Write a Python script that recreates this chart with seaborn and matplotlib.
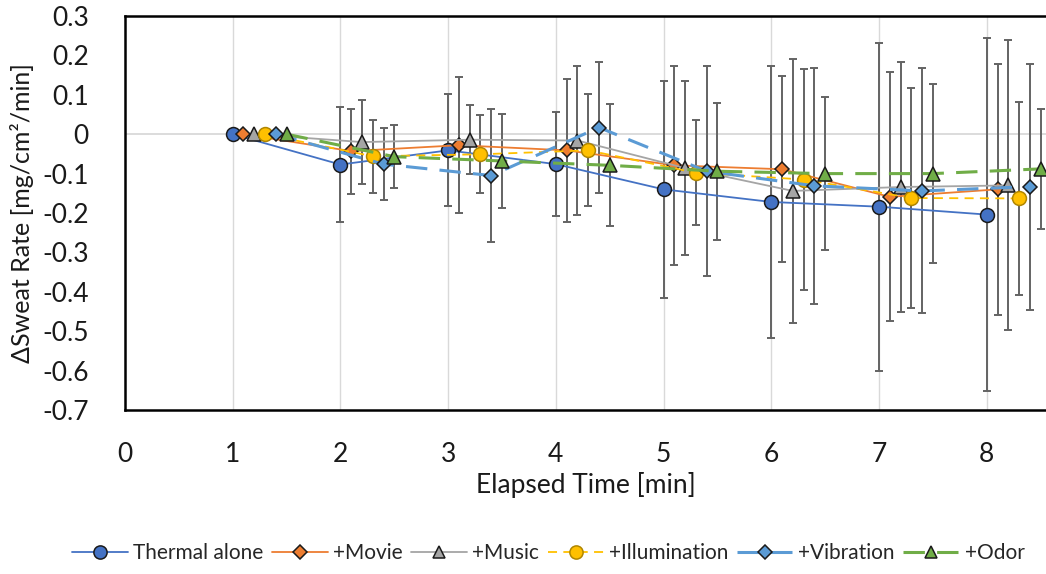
import numpy as np
import pandas as pd
import matplotlib
matplotlib.use("Agg")
import matplotlib.pyplot as plt
import seaborn as sns

# Elapsed time points (min)
minutes = [1, 2, 3, 4, 5, 6, 7, 8]

# Condition names
conditions = ["Thermal alone", "+Movie", "+Music", "+Illumination", "+Vibration", "+Odor"]

# Mean change in sweat rate [mg/cm²/min]
thermal_mean = [0, -0.077, -0.041, -0.076, -0.140, -0.172, -0.184, -0.204]
movie_mean = [0, -0.043, -0.028, -0.041, -0.079, -0.089, -0.159, -0.140]
music_mean = [0, -0.020, -0.014, -0.016, -0.086, -0.144, -0.134, -0.130]
illum_mean = [0, -0.056, -0.051, -0.041, -0.098, -0.115, -0.162, -0.163]
vib_mean = [0, -0.076, -0.105, 0.017, -0.094, -0.131, -0.144, -0.133]
odor_mean = [0, -0.057, -0.068, -0.079, -0.094, -0.100, -0.100, -0.088]

# Standard deviations
thermal_sd = [0, 0.147, 0.142, 0.132, 0.276, 0.345, 0.416, 0.448]
movie_sd = [0, 0.108, 0.172, 0.182, 0.252, 0.236, 0.316, 0.318]
music_sd = [0, 0.107, 0.087, 0.190, 0.220, 0.334, 0.318, 0.368]
illum_sd = [0, 0.092, 0.099, 0.142, 0.133, 0.280, 0.280, 0.245]
vib_sd = [0, 0.092, 0.168, 0.167, 0.266, 0.300, 0.311, 0.312]
odor_sd = [0, 0.080, 0.120, 0.155, 0.174, 0.194, 0.228, 0.152]

means = [thermal_mean, movie_mean, music_mean, illum_mean, vib_mean, odor_mean]
sds = [thermal_sd, movie_sd, music_sd, illum_sd, vib_sd, odor_sd]

# Styling per condition
colors = ["#4472C4", "#ED7D31", "#A5A5A5", "#FFC000", "#5B9BD5", "#70AD47"]
markers = ["o", "D", "^", "o", "D", "^"]
msizes = [10, 7, 9.5, 10, 7, 9.5]
edgecolors = ["#1a1a1a", "#1a1a1a", "#1a1a1a", "#B08600", "#1a1a1a", "#1a1a1a"]
linewidths = [1.3, 1.3, 1.3, 1.3, 2.2, 2.2]
dashes = [None, None, None, (5, 3.5), (7, 4), (7, 4)]

rows = []
for i, name in enumerate(conditions):
    for t, m, s in zip(minutes, means[i], sds[i]):
        rows.append({"condition": name, "time": t + 0.1 * i, "delta": m, "sd": s})
df = pd.DataFrame(rows)

sns.set_theme(style="white")
plt.rcParams["font.family"] = ["Lato", "DejaVu Sans"]

fig = plt.figure(figsize=(10.46, 5.74), dpi=100)
ax = fig.add_axes([125 / 1046, 1 - 410 / 574, 921 / 1046, 394 / 574])

# Light reference lines
for t in minutes:
    ax.axvline(t, color="#D9D9D9", lw=1.0, zorder=0)
ax.axhline(0, color="#D9D9D9", lw=1.3, zorder=0)

handles = []
for i, name in enumerate(conditions):
    sub = df[df["condition"] == name]
    has_err = sub["sd"] > 0
    ax.errorbar(sub["time"][has_err], sub["delta"][has_err], yerr=sub["sd"][has_err],
                fmt="none", ecolor="#636363", elinewidth=1.4, capsize=3.2,
                capthick=1.4, zorder=2)
    sns.lineplot(data=sub, x="time", y="delta", ax=ax, color=colors[i],
                 lw=linewidths[i], zorder=3 + i, legend=False, sort=False)
    line = ax.lines[-1]
    if dashes[i] is not None:
        line.set_dashes(dashes[i])
    line.set_marker(markers[i])
    line.set_markersize(msizes[i])
    line.set_markerfacecolor(colors[i])
    line.set_markeredgecolor(edgecolors[i])
    line.set_markeredgewidth(1.1)
    line.set_label(name)
    handles.append(line)

ax.set_xlim(0, 8.55)
ax.set_ylim(-0.7, 0.3)
ax.set_xticks(range(0, 9))
yt = np.round(np.arange(-0.7, 0.31, 0.1), 1)
ax.set_yticks(yt)
ax.set_yticklabels([("0" if abs(v) < 1e-9 else f"{v:.1f}") for v in yt])
ax.tick_params(axis="both", length=0, labelsize=19, colors="#1a1a1a")
ax.tick_params(axis="y", pad=26)
ax.tick_params(axis="x", pad=23)

for side in ["left", "top", "bottom"]:
    ax.spines[side].set_color("black")
    ax.spines[side].set_linewidth(1.8)
ax.spines["right"].set_visible(False)

ax.set_xlabel("Elapsed Time [min]", fontsize=19, color="#1a1a1a", labelpad=4)
ax.set_ylabel("ΔSweat Rate [mg/cm²/min]", fontsize=18, color="#1a1a1a", labelpad=6)

fig.legend(handles=handles, labels=conditions, loc="center",
           bbox_to_anchor=(548 / 1046, 1 - 553 / 574), ncol=6, frameon=False,
           fontsize=15, handlelength=2.7, handletextpad=0.25, columnspacing=0.4,
           markerscale=0.95)

fig.savefig("out.png", dpi=100)
